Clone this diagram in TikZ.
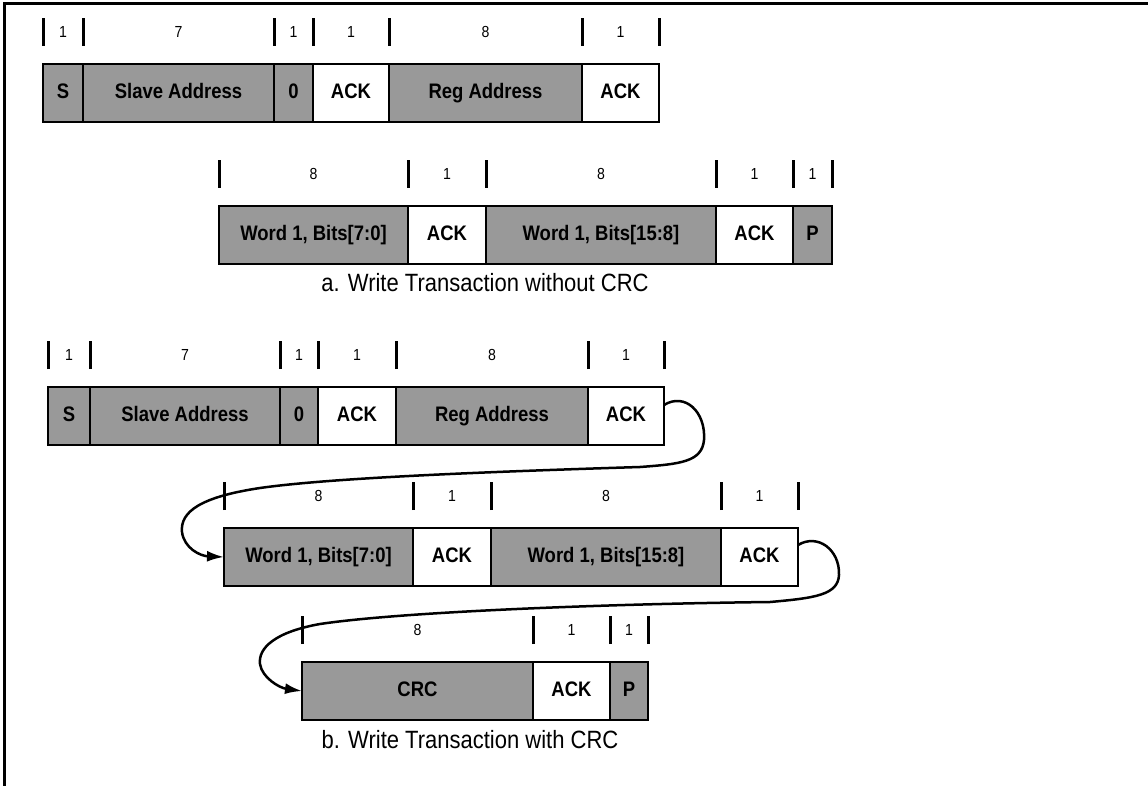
\documentclass[tikz,border=0pt]{standalone}
\usepackage{fontspec}
\setmainfont[FakeStretch=0.88]{Liberation Sans}
\usetikzlibrary{arrows.meta,calc,positioning}

\definecolor{fieldgray}{RGB}{153,153,153}

\tikzset{
  field/.style={draw, line width=1.2pt, fill=fieldgray, minimum height=58pt,
    inner sep=0pt, outer sep=0pt, text height=15pt, text depth=4pt,
    font=\fontsize{21}{21}\selectfont\bfseries},
  ackfield/.style={field, fill=white},
  bitnum/.style={inner sep=0pt, font=\fontsize{16}{16}\selectfont},
  bitmark/.style={line width=3pt},
  caption/.style={inner sep=0pt, font=\fontsize{25}{25}\selectfont},
  wrap/.style={line width=2.5pt, -{Latex[length=17pt,width=11pt]}}
}

\begin{document}
\begin{tikzpicture}[x=1pt, y=-1pt]
 \useasboundingbox (0,0) rectangle (1148,786);
 \draw[line width=3pt] (4,786) -- (4,4) -- (1148,4);

 % a. Write Transaction without CRC
 \node[field, minimum width=40pt] (s1) at (63,93) {S};
 \node[field, minimum width=191pt, right=0pt of s1] (addr1) {Slave Address};
 \node[field, minimum width=39pt, right=0pt of addr1] (rw1) {0};
 \node[ackfield, minimum width=76pt, right=0pt of rw1] (ack1) {ACK};
 \node[field, minimum width=193pt, right=0pt of ack1] (reg1) {Reg Address};
 \node[ackfield, minimum width=77pt, right=0pt of reg1] (regack1) {ACK};

 \node[field, minimum width=189pt] (lo1) at (313.5,235) {Word 1, Bits[7:0]};
 \node[ackfield, minimum width=78pt, right=0pt of lo1] (loack1) {ACK};
 \node[field, minimum width=230pt, right=0pt of loack1] (hi1) {Word 1, Bits[15:8]};
 \node[ackfield, minimum width=77pt, right=0pt of hi1] (hiack1) {ACK};
 \node[field, minimum width=39pt, right=0pt of hiack1] (stop1) {P};

 \node[caption] (capa) at (485,283) {a. Write Transaction without CRC};

 % b. Write Transaction with CRC
 \node[field, minimum width=42pt] (s2) at (69,416) {S};
 \node[field, minimum width=190pt, right=0pt of s2] (addr2) {Slave Address};
 \node[field, minimum width=38pt, right=0pt of addr2] (rw2) {0};
 \node[ackfield, minimum width=78pt, right=0pt of rw2] (ack2) {ACK};
 \node[field, minimum width=192pt, right=0pt of ack2] (reg2) {Reg Address};
 \node[ackfield, minimum width=76pt, right=0pt of reg2] (regack2) {ACK};

 \node[field, minimum width=189pt] (lo2) at (318.5,557) {Word 1, Bits[7:0]};
 \node[ackfield, minimum width=78pt, right=0pt of lo2] (loack2) {ACK};
 \node[field, minimum width=230pt, right=0pt of loack2] (hi2) {Word 1, Bits[15:8]};
 \node[ackfield, minimum width=77pt, right=0pt of hi2] (hiack2) {ACK};

 \node[field, minimum width=231pt] (crc2) at (417.5,691) {CRC};
 \node[ackfield, minimum width=77pt, right=0pt of crc2] (crcack2) {ACK};
 \node[field, minimum width=38pt, right=0pt of crcack2] (stop2) {P};

 \node[caption] (capb) at (470,740) {b. Write Transaction with CRC};

 % bit counts above the fields
 \foreach \f/\n in {s1/1, addr1/7, rw1/1, ack1/1, reg1/8, regack1/1,
                    lo1/8, loack1/1, hi1/8, hiack1/1, stop1/1,
                    s2/1, addr2/7, rw2/1, ack2/1, reg2/8, regack2/1,
                    lo2/8, loack2/1, hi2/8, hiack2/1,
                    crc2/8, crcack2/1, stop2/1} {
   \draw[bitmark] ([yshift=18pt]\f.north west) -- ([yshift=46pt]\f.north west);
   \node[bitnum] at ([yshift=32pt]\f.north) {\n};
 }
 \foreach \f in {regack1, stop1, regack2, hiack2, stop2}
   \draw[bitmark] ([yshift=18pt]\f.north east) -- ([yshift=46pt]\f.north east);

 % wrap-around to the next line
 \draw[wrap] ([yshift=11pt]regack2.east) .. controls (685,392) and (706,412) .. (704,440)
   .. controls (702,462) and (680,464) .. (640,467)
   .. controls (480,472) and (330,478) .. (260,488)
   .. controls (200,497) and (180,512) .. (182,532)
   .. controls (184,548) and (200,556) .. (lo2.west);
 \draw[wrap] ([yshift=12pt]hiack2.east) .. controls (818,533) and (840,550) .. (839,575)
   .. controls (838,595) and (815,598) .. (770,602)
   .. controls (600,604) and (400,612) .. (320,624)
   .. controls (275,632) and (258,648) .. (260,664)
   .. controls (262,678) and (280,688) .. (crc2.west);
\end{tikzpicture}
\end{document}
